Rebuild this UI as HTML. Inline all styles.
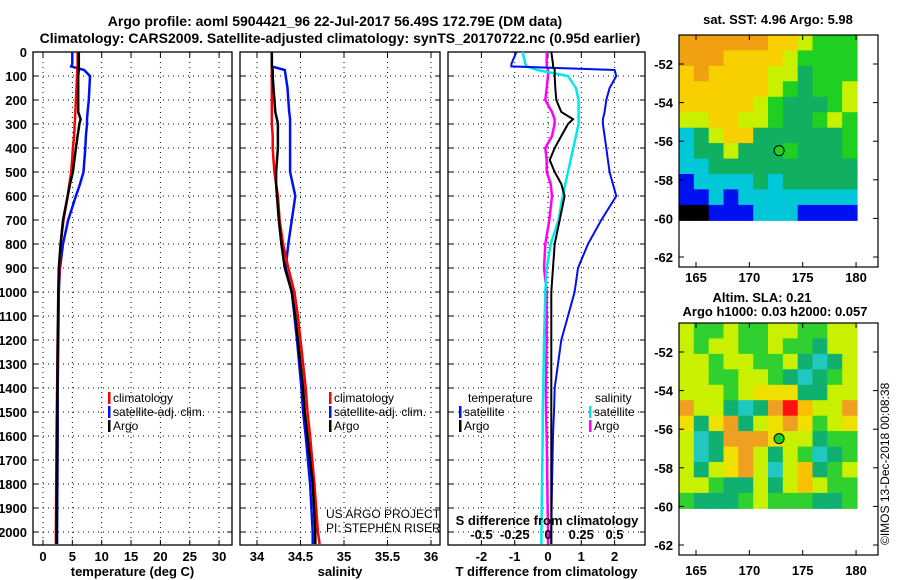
<!DOCTYPE html>
<html><head><meta charset="utf-8"><style>
html,body{margin:0;padding:0;background:#fff;}
svg{display:block;font-family:"Liberation Sans",Arial,sans-serif;}
.t{font-weight:bold;font-size:13px;}
.n{font-size:12px;}
</style></head><body>
<svg id="s" width="900" height="580" xmlns="http://www.w3.org/2000/svg">
<text x="335" y="26" text-anchor="middle" class="t" style="font-size:14px">Argo profile: aoml 5904421_96 22-Jul-2017 56.49S 172.79E (DM data)</text>
<text x="340" y="43" text-anchor="middle" class="t" style="font-size:14px">Climatology: CARS2009. Satellite-adjusted climatology: synTS_20170722.nc (0.95d earlier)</text>
<text x="778" y="24" text-anchor="middle" class="t">sat. SST: 4.96 Argo: 5.98</text>
<text x="762" y="302" text-anchor="middle" class="t">Altim. SLA: 0.21</text>
<text x="775" y="316" text-anchor="middle" class="t">Argo h1000: 0.03 h2000: 0.057</text>
<text transform="translate(889,545) rotate(-90)" class="n">©IMOS 13-Dec-2018 00:08:38</text>
<text x="326" y="518" class="n">US ARGO PROJECT</text>
<text x="326" y="532" class="n">PI: STEPHEN RISER</text>
<g id="g"></g>
</svg>
<script>
const depths=[0,50,60,75,100,150,200,250,280,300,350,400,450,500,550,600,700,800,900,1000,1100,1200,1400,1500,1600,1800,2000,2050];
const tempArgo=[6.1,6.1,6.1,6.1,6.0,6.0,6.0,6.0,6.4,6.2,5.9,5.6,5.35,5.1,4.6,4.2,3.4,3.0,2.7,2.6,2.55,2.5,2.45,2.42,2.4,2.35,2.3,2.3];
const tempClim=[5.9,5.9,5.9,5.85,5.8,5.7,5.6,5.5,5.45,5.4,5.3,5.1,4.95,4.8,4.5,4.2,3.5,3.0,2.8,2.65,2.6,2.5,2.4,2.35,2.3,2.25,2.2,2.2];
const tempSat=[5.0,5.0,4.8,7.0,8.0,7.9,7.8,7.6,7.5,7.5,7.3,7.2,7.05,6.9,6.3,5.6,4.3,3.4,2.9,2.7,2.65,2.6,2.5,2.5,2.5,2.45,2.4,2.4];
const salArgo=[34.17,34.17,34.17,34.18,34.18,34.19,34.2,34.21,34.23,34.24,34.24,34.24,34.23,34.22,34.22,34.23,34.25,34.28,34.32,34.4,34.44,34.47,34.53,34.55,34.58,34.64,34.67,34.67];
const salClim=[34.17,34.17,34.17,34.17,34.17,34.17,34.17,34.17,34.17,34.17,34.18,34.18,34.19,34.2,34.22,34.24,34.26,34.3,34.36,34.43,34.47,34.5,34.56,34.58,34.61,34.66,34.7,34.72];
const salSat=[34.17,34.17,34.17,34.32,34.33,34.35,34.36,34.37,34.38,34.38,34.38,34.38,34.38,34.38,34.41,34.44,34.4,34.36,34.33,34.4,34.43,34.46,34.51,34.53,34.56,34.61,34.64,34.64];
const dTsat=[-0.95,-1.1,-1.1,2.0,2.05,1.85,1.75,1.7,1.65,1.65,1.7,1.75,1.8,1.85,1.95,2.05,1.6,1.2,0.9,0.8,0.6,0.4,0.2,0.18,0.15,0.12,0.1,0.1];
const dTargo=[0.1,0.15,0.15,0.2,0.2,0.22,0.25,0.4,0.75,0.6,0.4,0.2,0.05,0.2,0.4,0.5,0.35,0.2,0.15,0.1,0.1,0.1,0.1,0.1,0.1,0.1,0.1,0.1];
const dSsat=[-0.19,-0.17,-0.16,-0.08,0.15,0.21,0.23,0.23,0.23,0.23,0.21,0.19,0.17,0.15,0.13,0.11,0.08,0.02,-0.01,-0.02,-0.025,-0.03,-0.035,-0.04,-0.04,-0.045,-0.05,-0.05];
const dSargo=[-0.01,-0.01,-0.01,0,0,-0.01,-0.02,0.03,0.05,0.05,0.03,-0.02,-0.01,-0.01,0.02,0.03,0.01,-0.02,-0.03,-0.01,-0.01,-0.01,-0.015,-0.015,-0.01,-0.005,0,0];
const depthTicks=[0,100,200,300,400,500,600,700,800,900,1000,1100,1200,1300,1400,1500,1600,1700,1800,1900,2000];
const tempTicks=[0,5,10,15,20,25,30];
const salTicks=[34,34.5,35,35.5,36];
const dTTicks=[-2,-1,0,1,2];
const dSTicks=[-0.5,-0.25,0,0.25,0.5];
const lonTicks=[165,170,175,180];
const latTicks=[-52,-54,-56,-58,-60,-62];
const sstRows=["OOOOOOYYyGGG","OOOYYYYyGGGG","YOYYYYyygGGG","YYYYYYyGgGGy","YYYYYyGgggGy","yyYYyyGggGyG","CgyYYggggggG","CggygggGgggG","CCgggggggggg","BCCCCgCggggg","BBCBCCCCCCCC","KKBBBCCCBBBB"];
const slaRows=["yGGyGGyyGGyy","yGyyGGyGGgyy","yyGyyGGygCgy","yyGGyyGgCgGy","yyyGyYYYggyy","OyygCgORoyyO","YgYOgyYOYGyY","yCgOOOYyygGG","yCgYOygyGCgG","ygyYOyCyogGy","yyGggygyoyGG","GgggGyGGGggG"];
const argoLon=172.79, argoLat=-56.49;
const pal={O:"#f0a010",o:"#f8b800",Y:"#f8d000",y:"#c8f000",G:"#20d020",g:"#10b060",C:"#00c8d8",B:"#0010f0",K:"#000000",R:"#ff0000"};
const slaPal={O:"#f0a020",o:"#f8c000",Y:"#f0e000",y:"#c8f000",G:"#30d030",g:"#10b070",C:"#20c8c0",R:"#ff1010"};
const NS="http://www.w3.org/2000/svg", G=document.getElementById('g');
function el(t,a,p){const e=document.createElementNS(NS,t);for(const k in a)e.setAttribute(k,a[k]);(p||G).appendChild(e);return e;}
const yD=d=>52+0.24*d;
const panels=[
 {x0:33,x1:232,sx:v=>43+5.87*v,ticks:tempTicks,lab:"temperature (deg C)",name:"temperature"},
 {x0:240,x1:440,sx:v=>257+87*(v-34),ticks:salTicks,lab:"salinity",name:"salinity"},
 {x0:448,x1:645,sx:v=>548+33.3*v,ticks:dTTicks,lab:"T difference from climatology",name:"difference"}];
panels.forEach((p,i)=>{
 const g=el('g',{});
 
 
 depthTicks.forEach(d=>{
  const l=el('line',{x1:p.x0,x2:p.x1,y1:yD(d),y2:yD(d),stroke:'#000','stroke-dasharray':'1,4','stroke-width':1},g);
  
  
  el('line',{x1:p.x0,x2:p.x0+5,y1:yD(d),y2:yD(d),stroke:'#000'},g);
  el('line',{x1:p.x1-5,x2:p.x1,y1:yD(d),y2:yD(d),stroke:'#000'},g);
  if(i==0){const t=el('text',{x:27,y:yD(d)+5,'text-anchor':'end',class:'t'},g);t.textContent=d;
   
   }
 });
 p.ticks.forEach(v=>{const x=p.sx(v);
  el('line',{x1:x,x2:x,y1:52,y2:545,stroke:'#000','stroke-dasharray':'1,4'},g);
  el('line',{x1:x,x2:x,y1:52,y2:57,stroke:'#000'},g);
  el('line',{x1:x,x2:x,y1:540,y2:545,stroke:'#000'},g);
  const t=el('text',{x:x,y:561,'text-anchor':'middle',class:'t'},g);t.textContent=v;
  
  
 });
 const xl=el('text',{x:(p.x0+p.x1)/2,y:576,'text-anchor':'middle',class:'t'},g);xl.textContent=p.lab;
 
 
 const fr=el('rect',{x:p.x0,y:52,width:p.x1-p.x0,height:493,fill:'none',stroke:'#000','stroke-width':1.3},g);
 
 
});
const sS=v=>548+133*v;
function line(vals,sx,col,name,w){
 const pts=vals.map((v,k)=>sx(v).toFixed(1)+','+yD(depths[k]).toFixed(1)).join(' ');
 const e=el('polyline',{points:pts,fill:'none',stroke:col,'stroke-width':w||2.5});
 
 
}
line(tempSat,panels[0].sx,'#0010f0','temp-satellite-line');
line(tempClim,panels[0].sx,'#ff0000','temp-climatology-line');
line(tempArgo,panels[0].sx,'#000','temp-argo-line');
line(salSat,panels[1].sx,'#0010f0','salinity-satellite-line');
line(salClim,panels[1].sx,'#ff0000','salinity-climatology-line');
line(salArgo,panels[1].sx,'#000','salinity-argo-line');
line(dSargo,sS,'#ff00ff','s-diff-argo-line');
line(dSsat,sS,'#00e8e8','s-diff-satellite-line');
line(dTsat,panels[2].sx,'#0010f0','t-diff-satellite-line',2);
line(dTargo,panels[2].sx,'#000','t-diff-argo-line',2);
const sdt=el('text',{x:547,y:525,'text-anchor':'middle',class:'t'});sdt.textContent='S difference from climatology';


dSTicks.forEach(v=>{const t=el('text',{x:sS(v),y:539,'text-anchor':'middle',class:'t'});t.textContent=v;
 
 });
function leg(x,y,col,txt,name){
 const m=el('rect',{x:x,y:y-10,width:2.5,height:12,fill:col});
 const t=el('text',{x:x+5,y:y,class:'n'});t.textContent=txt;
 
 
}
[[108,'climatology','#ff0000'],[108,'satellite-adj. clim.','#0010f0'],[108,'Argo','#000']].forEach((a,k)=>leg(a[0],402+k*14,a[2],a[1],'legend-temp-'+k));
[[329,'climatology','#ff0000'],[329,'satellite-adj. clim.','#0010f0'],[329,'Argo','#000']].forEach((a,k)=>leg(a[0],402+k*14,a[2],a[1],'legend-sal-'+k));
const lt=el('text',{x:468,y:402,class:'n'});lt.textContent='temperature';


const ls=el('text',{x:595,y:402,class:'n'});ls.textContent='salinity';


leg(459,416,'#0010f0','satellite','legend-t-satellite');
leg(459,430,'#000','Argo','legend-t-argo');
leg(589,416,'#00e8e8','satellite','legend-s-satellite');
leg(589,430,'#ff00ff','Argo','legend-s-argo');
function map(top,latTop,rows,P,name){
 const lx=v=>696+(v-165)*10.67, ly=v=>top+29+(-52-v)*19.3;
 const g=el('g',{});
 
 
 const x0=679,x1=857,y0=top,y1=ly(-60.1);
 const nr=rows.length,nc=rows[0].length,cw=(x1-x0)/nc,ch=(y1-y0)/nr;
 rows.forEach((r,i)=>{for(let j=0;j<nc;j++){
  const c=el('rect',{x:(x0+j*cw).toFixed(1),y:(y0+i*ch).toFixed(1),width:(cw+0.6).toFixed(1),height:(ch+0.6).toFixed(1),fill:P[r[j]]},g);
  
  
 }});
 const bottom=top+232;
 el('rect',{x:679,y:top,width:199,height:bottom-top,fill:'none',stroke:'#000','stroke-width':1.2},g);
 lonTicks.forEach(v=>{el('line',{x1:lx(v),x2:lx(v),y1:top,y2:top+5,stroke:'#000'},g);el('line',{x1:lx(v),x2:lx(v),y1:bottom-5,y2:bottom,stroke:'#000'},g);
  if(top<100||true){const t=el('text',{x:lx(v),y:top<100?282:575,'text-anchor':'middle',class:'t'},g);t.textContent=v;
  
  }});
 latTicks.forEach(v=>{const y=ly(v);if(y>bottom)return;
  el('line',{x1:679,x2:684,y1:y,y2:y,stroke:'#000'},g);el('line',{x1:873,x2:878,y1:y,y2:y,stroke:'#000'},g);
  const t=el('text',{x:673,y:y+5,'text-anchor':'end',class:'t'},g);t.textContent=v;
  
  });
 const c=el('circle',{cx:lx(argoLon),cy:ly(argoLat),r:5,fill:'#20d020',stroke:'#000'},g);
 
 
}
map(35,-50.5,sstRows,pal,'sst-map');
map(323,-50.5,slaRows,slaPal,'sla-map');
</script>
</body></html>
